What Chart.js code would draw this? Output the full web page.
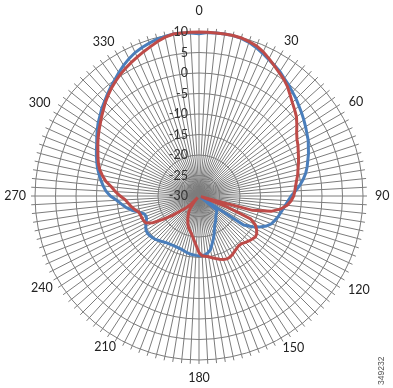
<!DOCTYPE html>
<html>
<head>
<meta charset="utf-8">
<script src="https://cdn.jsdelivr.net/npm/chart.js@4.4.1/dist/chart.umd.min.js"></script>
<style>
  html, body { margin: 0; padding: 0; background: #fff; }
  #wrap { position: relative; width: 393px; height: 388px; }
  #code {
    position: absolute; left: 376px; top: 385px; width: 30px;
    font: 8.5px "Liberation Sans", sans-serif; color: #555;
    transform: rotate(-90deg); transform-origin: left top; white-space: nowrap;
  }
</style>
</head>
<body>
<div id="wrap">
  <canvas id="pattern"></canvas>
  <div id="code">349232</div>
</div>
<script>
// angle categories, every 3 degrees
const angleStep = 3
const angles = []
for (let a = 0; a < 360; a += angleStep) angles.push(a)

const shownAngles = [0, 30, 60, 90, 120, 150, 180, 210, 240, 270, 300, 330]
const radialTicks = [10, 5, 0, -5, -10, -15, -20, -25, -30]

// gain in dB
const blueGain = [
  9.6, 9.9, 10, 10, 10, 9.8, 9.4, 8.8, 8.1, 7.4,
  6.8, 6.2, 5.4, 4.8, 4.1, 3.5, 2.8, 2.2, 1.6, 1.0,
  0.4, -0.1, -0.8, -1.4, -2.1, -2.7, -3.4, -4.3, -5.3, -6.4,
  -7.5, -8.2, -8.8, -9.3, -9.7, -10.1, -10.6, -11.1, -12.0, -13.4,
  -15.0, -17.0, -29.5, -24.5, -24.2, -24.0, -23.8, -23.5, -23.0, -22.6,
  -22.2, -21.6, -20.8, -19.8, -18.8, -17.8, -16.6, -16.0, -15.6, -15.4,
  -15.4, -15.5, -15.6, -15.7, -15.9, -16.1, -16.3, -16.4, -16.4, -16.4,
  -16.3, -16.2, -16.0, -15.7, -15.4, -15.0, -14.8, -14.6, -14.5, -14.6,
  -15.0, -15.5, -16.0, -16.2, -15.9, -14.8, -13.3, -12.0, -11.0, -9.9,
  -8.4, -7.3, -6.5, -5.8, -5.1, -4.4, -3.8, -3.2, -2.6, -2.0,
  -1.2, -0.4, 0.4, 1.1, 1.9, 2.6, 3.4, 4.2, 5.0, 5.9,
  6.8, 7.6, 8.3, 8.8, 9.2, 9.6, 9.8, 10, 10, 9.8
]

const redGain = [
  10, 10, 10, 10, 10, 9.9, 9.6, 9.2, 8.5, 7.6,
  6.7, 5.9, 5.2, 4.3, 3.2, 2.2, 1.4, 0.6, -0.5, -1.6,
  -2.4, -2.9, -3.5, -4.0, -4.5, -5.0, -5.4, -5.9, -6.3, -6.6,
  -6.9, -7.5, -8.4, -9.8, -12.0, -16.5, -29.5, -23.0, -16.2, -14.6,
  -13.8, -13.2, -13.0, -13.3, -13.6, -14.0, -14.4, -14.5, -14.3, -14.0,
  -13.6, -13.3, -13.2, -13.4, -13.8, -14.2, -14.6, -15.0, -15.2, -15.4,
  -16.2, -17.8, -19.0, -20.0, -20.8, -21.3, -21.8, -22.5, -23.3, -24.0,
  -24.8, -25.5, -26.5, -28.0, -29.5, -27.0, -25.5, -24.3, -22.0, -19.5,
  -17.0, -15.5, -15.2, -15.1, -15.0, -14.8, -14.0, -13.3, -12.7, -12.0,
  -10.8, -9.6, -8.5, -7.0, -5.9, -4.9, -4.2, -3.6, -3.0, -2.3,
  -1.6, -0.9, -0.2, 0.6, 1.4, 2.3, 3.1, 3.9, 4.6, 5.3,
  5.9, 6.5, 7.1, 7.7, 8.3, 9.0, 9.6, 10, 10, 10
]

// gap between outer ring and each angle label, so labels sit where Excel put them
const labelGap = { 0: 14, 30: 6, 60: 9, 90: 12, 120: 8, 150: 3, 180: 10.5, 210: 2, 240: 5, 270: 9, 300: 7.5, 330: 5 }

const gridColor = '#7c7c7c'
const fontFamily = 'Lato, "Open Sans", sans-serif'

// tick marks past the outer ring, and the dB labels left of the 0 degree spoke
const overlay = {
  id: 'overlay',
  beforeDatasetsDraw(chart) {
    const scale = chart.scales.r
    const ctx = chart.ctx
    ctx.save()
    ctx.strokeStyle = gridColor
    ctx.lineWidth = 1
    for (let i = 0; i < angles.length; i++) {
      const a = scale.getPointPosition(i, scale.drawingArea)
      const b = scale.getPointPosition(i, scale.drawingArea + 4)
      ctx.beginPath()
      ctx.moveTo(a.x, a.y)
      ctx.lineTo(b.x, b.y)
      ctx.stroke()
    }
    ctx.restore()
  },
  afterDatasetsDraw(chart) {
    const scale = chart.scales.r
    const ctx = chart.ctx
    ctx.save()
    ctx.font = '12.5px ' + fontFamily
    ctx.fillStyle = '#333'
    ctx.textAlign = 'right'
    ctx.textBaseline = 'middle'
    radialTicks.forEach(v => {
      const d = scale.getDistanceFromCenterForValue(v)
      ctx.fillText(String(v), scale.xCenter - 11, scale.yCenter - d)
    })
    ctx.restore()
  }
}

const ctx = document.getElementById('pattern')
new Chart(ctx, {
  type: 'radar',
  data: {
    labels: angles,
    datasets: [{
      data: blueGain,
      borderColor: '#4A7EBB',
      borderWidth: 3,
      pointRadius: 0,
      fill: false,
      order: 1
    }, {
      data: redGain,
      borderColor: '#BE4B48',
      borderWidth: 3,
      pointRadius: 0,
      fill: false,
      order: 0
    }]
  },
  options: {
    responsive: true,
    maintainAspectRatio: false,
    animation: false,
    devicePixelRatio: 1,
    layout: { padding: { top: 2, left: 2, right: 0, bottom: 0 } },
    plugins: { legend: { display: false }, tooltip: { enabled: false } },
    scales: {
      r: {
        min: -30,
        max: 10,
        ticks: { stepSize: 5, display: false },
        grid: { circular: true, color: gridColor, lineWidth: 1 },
        angleLines: { color: gridColor, lineWidth: 1 },
        pointLabels: {
          padding: (c) => labelGap[angles[c.index]] ?? 0,
          color: '#222',
          font: { family: fontFamily, size: 12.5 },
          callback: (label) => shownAngles.includes(Number(label)) ? String(label) : ''
        }
      }
    }
  },
  plugins: [overlay]
})
</script>
</body>
</html>
